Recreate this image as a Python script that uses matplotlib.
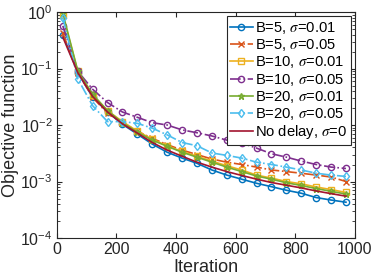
import matplotlib
matplotlib.use("Agg")
import matplotlib.pyplot as plt
import numpy as np

plt.rcParams['font.family'] = ['Liberation Sans', 'DejaVu Sans']
plt.rcParams['mathtext.fontset'] = 'stix'

iters = [20, 70, 120, 170, 220, 270, 320, 370, 420, 470, 520, 570, 620, 670, 720, 770, 820, 870, 920, 970]

b5_s001 = [0.40, 0.085, 0.031, 0.017, 0.0103, 0.0069, 0.0046, 0.0033, 0.0026, 0.0021, 0.0016, 0.0013, 0.0011,
           0.00093, 0.00081, 0.0007, 0.00062, 0.00052, 0.00047, 0.00043]
b5_s005 = [0.42, 0.085, 0.031, 0.016, 0.011, 0.0078, 0.0058, 0.0045, 0.0036, 0.0030, 0.0025, 0.0022, 0.0020,
           0.0018, 0.0016, 0.0015, 0.0014, 0.0013, 0.0012, 0.0010]
b10_s001 = [0.88, 0.090, 0.034, 0.018, 0.0115, 0.0078, 0.0056, 0.0043, 0.0034, 0.0028, 0.0023, 0.0019, 0.0016,
            0.0013, 0.00115, 0.0010, 0.00091, 0.0008, 0.00072, 0.00064]
b10_s005 = [0.57, 0.090, 0.043, 0.025, 0.017, 0.0137, 0.011, 0.010, 0.0082, 0.0073, 0.0064, 0.0054, 0.0048,
            0.0039, 0.0031, 0.0027, 0.0023, 0.0020, 0.0018, 0.0017]
b20_s001 = [0.95, 0.092, 0.035, 0.018, 0.011, 0.0075, 0.0054, 0.0042, 0.0033, 0.0027, 0.0022, 0.0018, 0.0015,
            0.00125, 0.0011, 0.00095, 0.00085, 0.00075, 0.00067, 0.0006]
b20_s005 = [0.80, 0.066, 0.022, 0.0115, 0.0115, 0.0107, 0.0088, 0.0067, 0.0049, 0.0043, 0.0032, 0.0029, 0.0026,
            0.0022, 0.0020, 0.0018, 0.0016, 0.0014, 0.0013, 0.00123]
no_delay = [0.36, 0.085, 0.032, 0.017, 0.0105, 0.0072, 0.0049, 0.0036, 0.0028, 0.0022, 0.0018, 0.0015, 0.00128,
            0.0011, 0.00096, 0.00086, 0.00077, 0.00068, 0.00061, 0.00055]

labels = ['B=5, $\\sigma$=0.01', 'B=5, $\\sigma$=0.05', 'B=10, $\\sigma$=0.01', 'B=10, $\\sigma$=0.05',
          'B=20, $\\sigma$=0.01', 'B=20, $\\sigma$=0.05', 'No delay, $\\sigma$=0']

series = [b5_s001, b5_s005, b10_s001, b10_s005, b20_s001, b20_s005, no_delay]
colors = [(0, 0.447, 0.741), (0.85, 0.325, 0.098), (0.929, 0.694, 0.125), (0.494, 0.184, 0.556),
          (0.466, 0.674, 0.188), (0.301, 0.745, 0.933), (0.635, 0.078, 0.184)]
styles = ['-', '-.', '-', '-.', '-', '-.', '-']
markers = ['o', 'x', 's', 'o', '*', 'd', None]

fig = plt.figure(figsize=(3.74, 2.8), dpi=100)
ax = fig.add_axes([0.152, 0.15, 0.797, 0.807])

for ys, c, ls, m, lab in zip(series, colors, styles, markers, labels):
    ax.plot(iters, ys, color=c, linestyle=ls, marker=m, markersize=4.5, markerfacecolor='none',
            markeredgewidth=1.0, linewidth=1.2, label=lab)

ax.set_yscale('log')
ax.set_xlim(0, 1000)
ax.set_ylim(1e-4, 1)
ax.set_xticks([0, 200, 400, 600, 800, 1000])
ax.set_yticks([1e-4, 1e-3, 1e-2, 1e-1, 1])

frame_c = (0.15, 0.15, 0.15)
for sp in ax.spines.values():
    sp.set_color(frame_c)
    sp.set_linewidth(0.8)
ax.tick_params(which='both', direction='in', top=True, right=True, colors=frame_c, labelcolor='#262626',
               labelsize=11.5, pad=3)
ax.tick_params(which='major', length=3.5)
ax.tick_params(which='minor', length=2)

ax.set_xlabel('Iteration', fontsize=13, color='#262626', labelpad=1)
ax.set_ylabel('Objective function', fontsize=13, color='#262626', labelpad=1)

leg = ax.legend(loc='upper right', fontsize=10.6, labelspacing=0.08, handlelength=1.5, handletextpad=0.15,
                borderpad=0.25, borderaxespad=0.3, fancybox=False, framealpha=1, edgecolor=frame_c)
leg.get_frame().set_linewidth(0.8)

fig.savefig('out.png', dpi=100)
